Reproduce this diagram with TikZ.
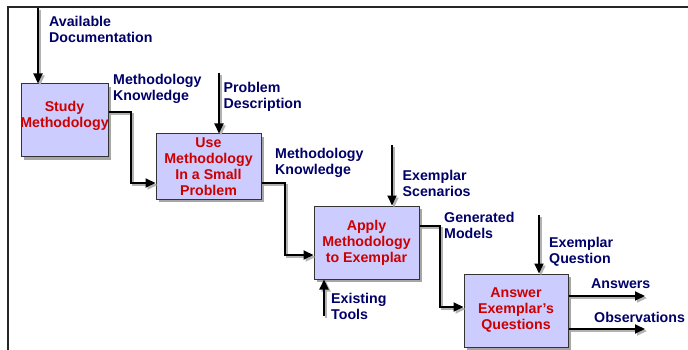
\documentclass[tikz,border=0pt]{standalone}
\usepackage{fontspec}
\setmainfont{Liberation Sans}
\usetikzlibrary{arrows.meta,calc}
\definecolor{navy}{RGB}{0,0,105}
\definecolor{boxred}{RGB}{205,0,0}
\definecolor{boxfill}{RGB}{204,204,255}
\begin{document}
\begin{tikzpicture}[x=1pt,y=-1pt,
  txt/.style={font=\bfseries\fontsize{14.2}{16}\selectfont},
  box/.style={txt, draw=black!80, line width=1pt, fill=boxfill, text=boxred, align=center, inner sep=0pt,
    preaction={fill=black!35, transform canvas={shift={(3pt,-3pt)}}}},
  boxtext/.style={txt, text=boxred, align=center, inner sep=0pt},
  lbl/.style={txt, text=navy, align=left, anchor=north west, inner sep=0pt},
  tip/.style={-{Triangle[length=10pt,width=9pt]}},
  flow/.style={line width=2pt, tip,
    preaction={draw=black!30, line width=2pt, tip, transform canvas={shift={(2pt,-2pt)}}}}]
\useasboundingbox (0,0) rectangle (688,350);
% frame
\draw[line width=1.5pt, black!85] (688,7) -- (8,7) -- (8,350);
% boxes
\node[box, minimum width=87pt, minimum height=73pt] (study) at (64.5,120.5) {};
\node[boxtext] (studytext) at ($(study.center)+(0,-5)$) {Study\\Methodology};
\node[box, minimum width=105pt, minimum height=65pt] (use) at (208.5,166.5) {Use\\Methodology\\In a Small\\Problem};
\node[box, minimum width=105pt, minimum height=73pt] (apply) at (366.5,242.5) {Apply\\Methodology\\to Exemplar};
\node[box, minimum width=104pt, minimum height=73pt] (answer) at (516,310.5) {Answer\\Exemplar’s\\Questions};
% coordinates
\coordinate (adtop) at (38,8);
\coordinate (s1) at (131,112);
\coordinate (s2) at (131,183);
\coordinate (u1) at (285,183);
\coordinate (u2) at (285,255);
\coordinate (a1) at (440,226);
\coordinate (a2) at (440,307);
\coordinate (pd) at (219,73);
\coordinate (es) at (392,145);
\coordinate (et) at (324,316);
\coordinate (eq) at (539,215);
\coordinate (ans) at (645,296);
\coordinate (obs) at (645,329);
% connectors
\draw[flow] (adtop) -- (adtop |- study.north);
\draw[flow] (s1 -| study.east) -- (s1) -- (s2) -- (s2 -| use.west);
\draw[flow] (u1 -| use.east) -- (u1) -- (u2) -- (u2 -| apply.west);
\draw[flow] (a1 -| apply.east) -- (a1) -- (a2) -- (a2 -| answer.west);
\draw[flow] (pd) -- (pd |- use.north);
\draw[flow] (es) -- (es |- apply.north);
\draw[flow] (et) -- (et |- apply.south);
\draw[flow] (eq) -- (eq |- answer.north);
\draw[flow] (ans -| answer.east) -- (ans);
\draw[flow] (obs -| answer.east) -- (obs);
% labels
\node[lbl] (l1) at (49,16.5) {Available\\Documentation};
\node[lbl] (l2) at (113,74.5) {Methodology\\Knowledge};
\node[lbl] (l3) at (223.5,82.5) {Problem\\Description};
\node[lbl] (l4) at (275,148) {Methodology\\Knowledge};
\node[lbl] (l5) at (402.5,170.5) {Exemplar\\Scenarios};
\node[lbl] (l6) at (331,293.5) {Existing\\Tools};
\node[lbl] (l7) at (444,212.5) {Generated\\Models};
\node[lbl] (l8) at (549,237.5) {Exemplar\\Question};
\node[lbl] (l9) at (591,278.5) {Answers};
\node[lbl] (l10) at (594,312.5) {Observations};
\end{tikzpicture}
\end{document}
